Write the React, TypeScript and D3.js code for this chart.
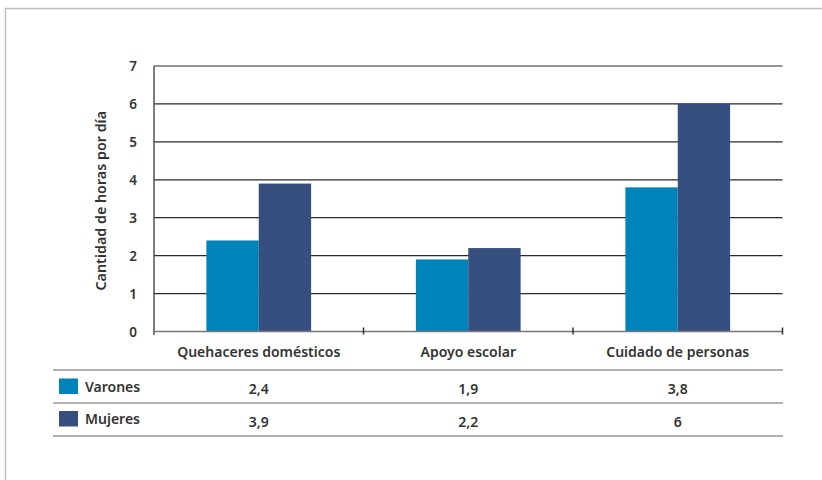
import { useEffect, useRef } from 'react'
import * as d3 from 'd3'

const categories = ['Quehaceres domésticos', 'Apoyo escolar', 'Cuidado de personas']
const seriesNames = ['Varones', 'Mujeres']
const varones = [2.4, 1.9, 3.8]
const mujeres = [3.9, 2.2, 6]
const varonesLabels = ['2,4', '1,9', '3,8']
const mujeresLabels = ['3,9', '2,2', '6']
const yTicks = [0, 1, 2, 3, 4, 5, 6, 7]
const colors = ['#0083b8', '#374f7f']

export default function App() {
  const ref = useRef<SVGSVGElement>(null)

  useEffect(() => {
    const svg = d3.select(ref.current)
    svg.selectAll('*').remove()

    const font = '"Noto Sans", "Open Sans", sans-serif'
    const left = 154
    const right = 782.5
    const top = 66
    const bottom = 331.5

    // outer frame
    svg.append('path')
      .attr('d', `M5.5,490 V8.5 H830`)
      .attr('fill', 'none')
      .attr('stroke', '#bdbdbd')
      .attr('stroke-width', 1.5)

    const x = d3.scaleBand<string>()
      .domain(categories)
      .range([left, right])

    const inner = d3.scaleBand<string>()
      .domain(seriesNames)
      .range([0, x.bandwidth() * 0.5])

    const y = d3.scaleLinear()
      .domain([0, 7])
      .range([bottom, top])

    // gridlines
    svg.append('g')
      .selectAll('line')
      .data(yTicks.filter(d => d > 0))
      .enter().append('line')
      .attr('x1', left)
      .attr('x2', right)
      .attr('y1', d => y(d))
      .attr('y2', d => y(d))
      .attr('stroke', '#2b2b2b')
      .attr('stroke-width', 1.2)

    // bars
    const groups = svg.append('g')
      .selectAll('g')
      .data(categories)
      .enter().append('g')
      .attr('transform', d => `translate(${(x(d) || 0) + x.bandwidth() * 0.25},0)`)

    const values = [varones, mujeres]
    seriesNames.forEach((s, si) => {
      groups.append('rect')
        .attr('x', inner(s) || 0)
        .attr('width', inner.bandwidth())
        .attr('y', (_, i) => y(values[si][i]))
        .attr('height', (_, i) => bottom - y(values[si][i]))
        .attr('fill', colors[si])
    })

    // x axis line
    svg.append('line')
      .attr('x1', left)
      .attr('x2', right)
      .attr('y1', bottom)
      .attr('y2', bottom)
      .attr('stroke', '#777')
      .attr('stroke-width', 1.5)

    // category ticks
    svg.append('g')
      .selectAll('line')
      .data(categories)
      .enter().append('line')
      .attr('x1', d => (x(d) || 0) + x.bandwidth())
      .attr('x2', d => (x(d) || 0) + x.bandwidth())
      .attr('y1', bottom - 4)
      .attr('y2', bottom + 3)
      .attr('stroke', '#333')
      .attr('stroke-width', 1.5)

    // y axis line
    svg.append('line')
      .attr('x1', left)
      .attr('x2', left)
      .attr('y1', top)
      .attr('y2', bottom + 3.5)
      .attr('stroke', '#555')
      .attr('stroke-width', 1.5)

    // y labels
    svg.append('g')
      .selectAll('text')
      .data(yTicks)
      .enter().append('text')
      .attr('x', 133)
      .attr('y', d => y(d) + 5)
      .attr('text-anchor', 'middle')
      .attr('font-family', font)
      .attr('font-size', 13.5)
      .attr('font-weight', 600)
      .attr('fill', '#333')
      .text(d => d)

    // y title
    svg.append('text')
      .attr('transform', `translate(106,${(top + bottom) / 2 + 2}) rotate(-90)`)
      .attr('text-anchor', 'middle')
      .attr('font-family', font)
      .attr('font-size', 14.3)
      .attr('font-weight', 600)
      .attr('fill', '#333')
      .text('Cantidad de horas por día')

    // category labels
    svg.append('g')
      .selectAll('text')
      .data(categories)
      .enter().append('text')
      .attr('x', d => (x(d) || 0) + x.bandwidth() / 2)
      .attr('y', 357)
      .attr('text-anchor', 'middle')
      .attr('font-family', font)
      .attr('font-size', 14)
      .attr('font-weight', 600)
      .attr('fill', '#333')
      .text(d => d)

    // data table
    const rowLines = [370, 403, 436]
    svg.append('g')
      .selectAll('line')
      .data(rowLines)
      .enter().append('line')
      .attr('x1', 53)
      .attr('x2', 783)
      .attr('y1', d => d)
      .attr('y2', d => d)
      .attr('stroke', '#999')
      .attr('stroke-width', 1.5)

    const rowLabels = [varonesLabels, mujeresLabels]
    seriesNames.forEach((s, si) => {
      const cy = si === 0 ? 386.5 : 419
      svg.append('rect')
        .attr('x', 59)
        .attr('y', cy - 8)
        .attr('width', 19)
        .attr('height', 15.5)
        .attr('fill', colors[si])
      svg.append('text')
        .attr('x', 85)
        .attr('y', cy + 5)
        .attr('font-family', font)
        .attr('font-size', 14)
        .attr('font-weight', 600)
        .attr('fill', '#333')
        .text(s)
      svg.append('g')
        .selectAll('text')
        .data(categories)
        .enter().append('text')
        .attr('x', d => (x(d) || 0) + x.bandwidth() / 2)
        .attr('y', cy + 7.5)
        .attr('text-anchor', 'middle')
        .attr('font-family', font)
        .attr('font-size', 14)
        .attr('font-weight', 600)
        .attr('fill', '#333')
        .text((_, i) => rowLabels[si][i])
    })
  }, [])

  return (
    <svg
      ref={ref}
      width={822}
      height={480}
      style={{ position: 'absolute', left: 0, top: 0, background: '#fff' }}
    />
  )
}
